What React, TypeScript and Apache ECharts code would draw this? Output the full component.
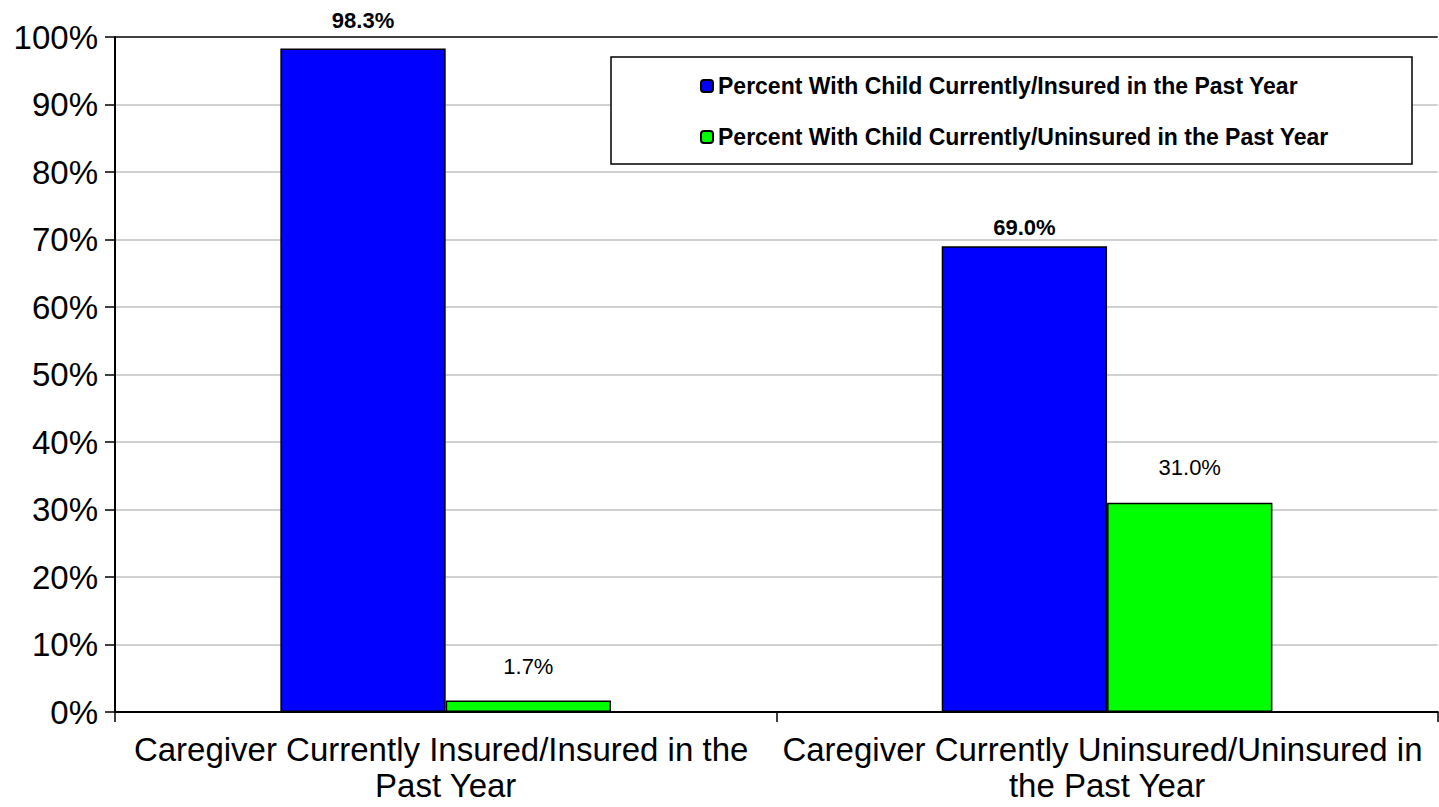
import React, { useEffect, useRef } from "react";
import * as echarts from "echarts";

const categories = [
  "Caregiver Currently Insured/Insured in the Past Year",
  "Caregiver Currently Uninsured/Uninsured in the Past Year",
];
const seriesNames = [
  "Percent With Child Currently/Insured in the Past Year",
  "Percent With Child Currently/Uninsured in the Past Year",
];
const insuredValues = [98.3, 69.0];
const uninsuredValues = [1.7, 31.0];
const yTicks = [0, 10, 20, 30, 40, 50, 60, 70, 80, 90, 100];

const FONT = "Liberation Sans, Arial, Helvetica, sans-serif";

export default function App() {
  const ref = useRef<HTMLDivElement>(null);
  useEffect(() => {
    if (!ref.current) return;
    const chart = echarts.init(ref.current, null, { renderer: "svg" });
    const fmt = (p: any) => Number(p.value).toFixed(1) + "%";
    const blueDist = [17, 8];
    const greenDist = [23, 24];
    const splitColors = yTicks.map((t, i) => (i === yTicks.length - 1 ? "#000000" : "#C0C0C0"));
    chart.setOption({
      animation: false,
      backgroundColor: "#ffffff",
      textStyle: { fontFamily: FONT },
      grid: { left: 115, right: -3, top: 37, bottom: 95, containLabel: false },
      graphic: [
        {
          type: "rect",
          z: 3,
          shape: { x: 611, y: 57, width: 801, height: 107 },
          style: { fill: "#ffffff", stroke: "#000000", lineWidth: 1.5 },
        },
      ],
      legend: {
        z: 5,
        orient: "vertical",
        left: 700,
        top: 74,
        padding: 0,
        itemGap: 27,
        itemWidth: 12,
        itemHeight: 12,
        textStyle: { fontFamily: FONT, fontSize: 23, fontWeight: "bold", color: "#000", lineHeight: 24 },
        data: seriesNames,
      },
      xAxis: {
        type: "category",
        data: categories,
        axisLine: { lineStyle: { color: "#000", width: 2 } },
        axisTick: { show: true, length: 10, lineStyle: { color: "#000", width: 1.5 } },
        axisLabel: {
          color: "#000",
          fontSize: 33,
          fontFamily: FONT,
          margin: 19,
          lineHeight: 36,
          width: 660,
          overflow: "break",
          interval: 0,
        },
      },
      yAxis: {
        type: "value",
        min: 0,
        max: 100,
        interval: 10,
        axisLine: { show: true, lineStyle: { color: "#000", width: 2 } },
        axisTick: { show: true, length: 10, lineStyle: { color: "#000", width: 1.5 } },
        axisLabel: { color: "#000", fontSize: 33, fontFamily: FONT, margin: 17, formatter: "{value}%" },
        splitLine: { show: true, lineStyle: { color: splitColors, width: 1.5 } },
      },
      series: [
        {
          name: seriesNames[0],
          type: "bar",
          barGap: "0%",
          barCategoryGap: "50%",
          itemStyle: { color: "#0000FF", borderColor: "#000", borderWidth: 1.5 },
          data: insuredValues.map((v, i) => ({
            value: v,
            label: {
              show: true,
              position: "top",
              distance: blueDist[i],
              formatter: fmt,
              fontSize: 22,
              fontWeight: "bold",
              color: "#000",
              fontFamily: FONT,
            },
          })),
        },
        {
          name: seriesNames[1],
          type: "bar",
          barGap: "0%",
          barCategoryGap: "50%",
          itemStyle: { color: "#00FF00", borderColor: "#000", borderWidth: 1.5 },
          data: uninsuredValues.map((v, i) => ({
            value: v,
            label: {
              show: true,
              position: "top",
              distance: greenDist[i],
              formatter: fmt,
              fontSize: 22,
              fontWeight: "normal",
              color: "#000",
              fontFamily: FONT,
            },
          })),
        },
      ],
    });
    return () => chart.dispose();
  }, []);
  return (
    <div
      ref={ref}
      style={{ position: "fixed", left: 0, top: 0, width: 1439, height: 807, background: "#fff" }}
    />
  );
}
